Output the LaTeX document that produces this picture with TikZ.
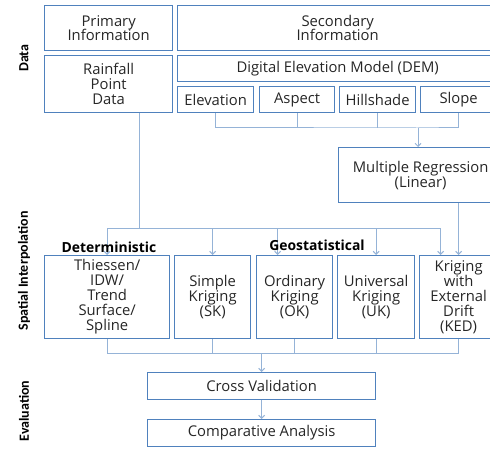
\documentclass[tikz,border=0pt]{standalone}
\usepackage{fontspec}
\setmainfont{Open Sans}
\newfontfamily\labelfont{Carlito}
\usetikzlibrary{arrows.meta}
\usetikzlibrary{positioning}

\definecolor{boxblue}{RGB}{79,129,189}
\definecolor{lineblue}{RGB}{149,179,215}
\definecolor{txtgray}{RGB}{38,38,38}

\tikzset{
  box/.style={draw=boxblue, line width=1.3pt, anchor=north west, inner sep=0pt,
    align=center, text=txtgray, font=\fontsize{14.8}{15}\selectfont},
  conn/.style={draw=lineblue, line width=1pt},
  arr/.style={conn, -{Straight Barb[length=3pt,width=6pt]}},
  sidelabel/.style={rotate=90, font=\labelfont\bfseries\fontsize{14}{16}\selectfont, text=black},
  grouplabel/.style={font=\bfseries\fontsize{13.9}{15}\selectfont, text=black}
}

\begin{document}
\begin{tikzpicture}[x=1pt, y=-1pt]
        \useasboundingbox (0,0) rectangle (490,449);
        \clip (0,0) rectangle (490,449);

        \node[sidelabel] (lbldata) at (24,58) {Data};
        \node[sidelabel] (lblinterp) at (24,271) {Spatial Interpolation};
        \node[sidelabel] (lbleval) at (24,411) {Evaluation};

        % data
        \node[box, minimum width=128pt, minimum height=45pt] (prim) at (44,5) {Primary\\[-1.5pt]Information};
        \node[box, minimum width=320pt, minimum height=45pt] (sec) at (177,5) {Secondary\\[-1.5pt]Information};
        \node[box, minimum width=128pt, minimum height=57pt] (rain) at (44,55) {Rainfall\\Point\\Data};
        \node[box, minimum width=320pt, minimum height=26pt] (dem) at (177,55) {Digital Elevation Model (DEM)};
        \node[box, minimum width=76pt, minimum height=26pt] (elev) at (177,86) {Elevation};
        \node[box, minimum width=75pt, minimum height=26pt] (asp) at (259,86) {Aspect};
        \node[box, minimum width=76pt, minimum height=26pt] (hill) at (339,86) {Hillshade};
        \node[box, minimum width=76pt, minimum height=26pt] (slope) at (420,86) {Slope};
        \node[box, minimum width=164pt, minimum height=55pt] (mr) at (338,147) {Multiple Regression\\(Linear)};

        % interpolation
        \node[box, minimum width=125pt, minimum height=83pt] (det) at (44,255) {Thiessen/\\IDW/\\Trend\\Surface/\\Spline};
        \node[box, minimum width=76pt, minimum height=83pt] (sk) at (174,255) {Simple\\Kriging\\(SK)};
        \node[box, minimum width=76pt, minimum height=83pt] (ok) at (256,255) {Ordinary\\Kriging\\(OK)};
        \node[box, minimum width=77pt, minimum height=83pt] (uk) at (337,255) {Universal\\Kriging\\(UK)};
        \node[box, minimum width=78pt, minimum height=83pt] (ked) at (419,255) {Kriging\\with\\External\\Drift\\(KED)};

        % evaluation
        \node[box, minimum width=228pt, minimum height=27pt] (cv) at (147,372) {Cross Validation};
        \node[box, minimum width=228pt, minimum height=27pt] (ca) at (147,419) {Comparative Analysis};

        \coordinate (demjoin) at (418,128);
        \coordinate (interjoin) at (139,229);
        \coordinate (evaljoin) at (262,353);

        \draw[conn] (elev.south) |- (demjoin) -| (slope.south);
        \draw[conn] (asp.south) -- (asp.south |- demjoin);
        \draw[conn] (hill.south) -- (hill.south |- demjoin);
        \draw[arr] (demjoin) -- (demjoin |- mr.north);

        \draw[conn] (rain.south -| interjoin) -- (interjoin);
        \draw[conn] (det.north |- interjoin) -- ([xshift=-18pt]ked.north |- interjoin);
        \foreach \n in {det, sk, uk}
            \draw[arr] (\n.north |- interjoin) -- (\n.north);
        \draw[arr] ([xshift=-17pt]ok.north |- interjoin) -- ([xshift=-17pt]ok.north);
        \draw[arr] ([xshift=-18pt]ked.north |- interjoin) -- ([xshift=-18pt]ked.north);
        \draw[arr] (mr.south -| ked.north) -- (ked.north);

        \draw[conn] (det.south) |- (ked.south |- evaljoin) -- (ked.south);
        \foreach \n in {sk, ok, uk}
            \draw[conn] (\n.south) -- (\n.south |- evaljoin);
        \draw[arr] (cv.north |- evaljoin) -- (cv.north);
        \draw[arr] (cv.south) -- (ca.north);

        \node[grouplabel] (detlbl) at (109,247) {Deterministic};
        \node[grouplabel] (geolbl) at (317,245) {Geostatistical};
    \end{tikzpicture}
\end{document}
